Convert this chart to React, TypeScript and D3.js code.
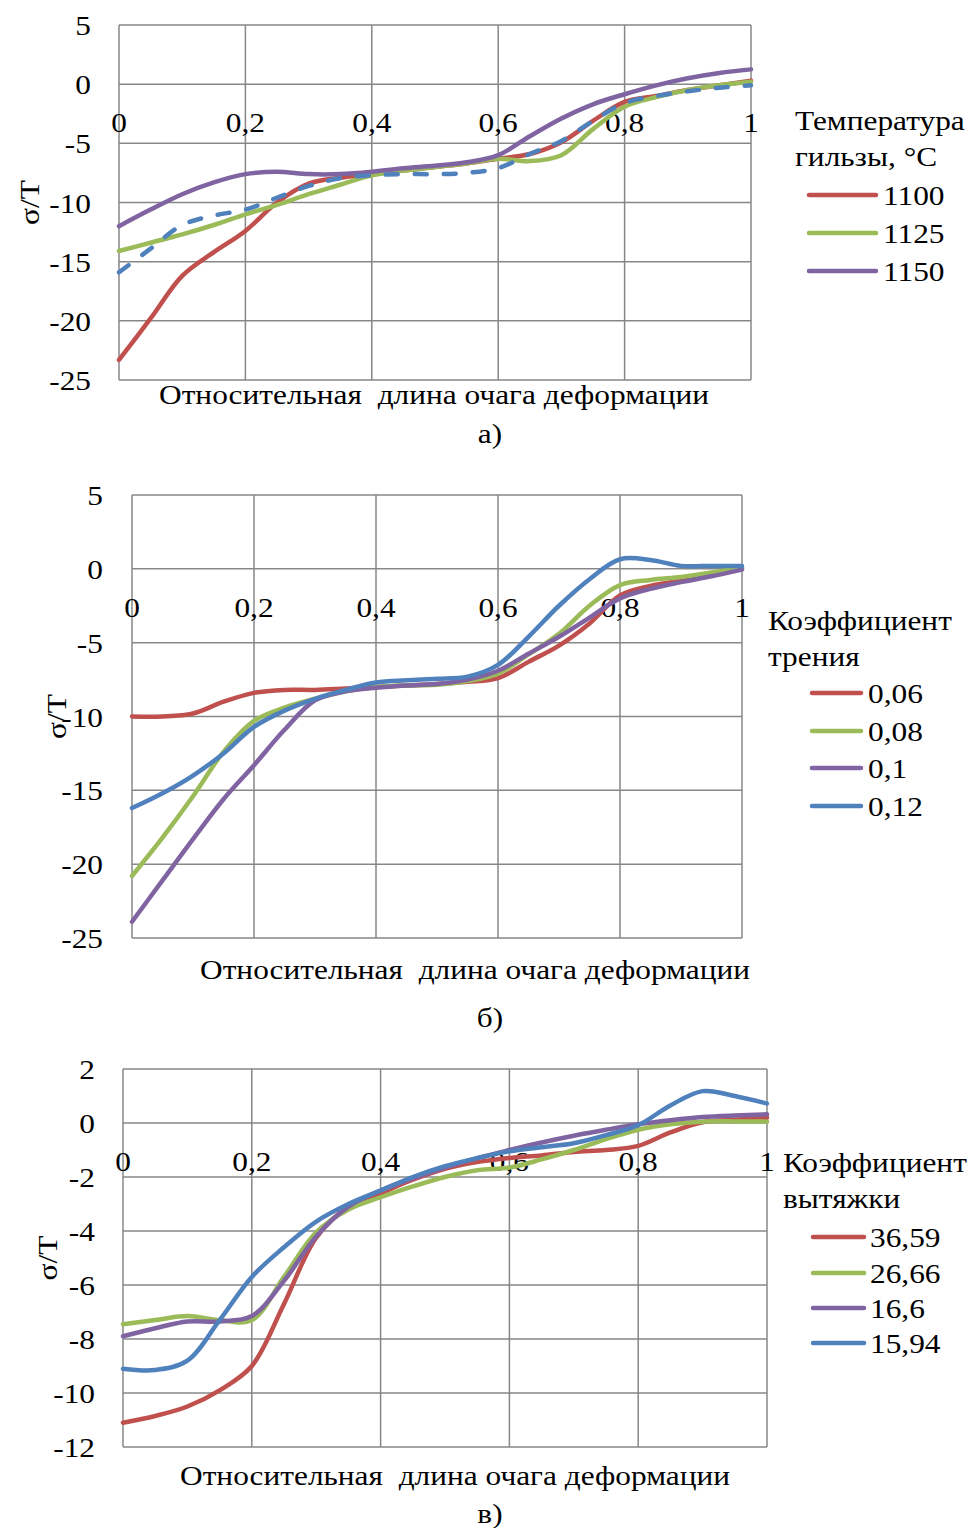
import React from "react";
import * as d3 from "d3";

// Relative position along the deformation zone (shared by all three panels)
const xPos = [0, 0.05, 0.1, 0.15, 0.2, 0.25, 0.3, 0.35, 0.4, 0.45, 0.5, 0.55, 0.6, 0.65, 0.7, 0.75, 0.8, 0.85, 0.9, 0.95, 1];
const xTicks = [0, 0.2, 0.4, 0.6, 0.8, 1];

// а) shell temperature
const yTicksA = [5, 0, -5, -10, -15, -20, -25];
const tempLabels = ["1100", "1125", "1150"];
const t1100 = [-23.3, -19.8, -16.2, -14.2, -12.4, -10.0, -8.4, -7.9, -7.6, -7.3, -7.0, -6.7, -6.3, -5.9, -4.9, -3.1, -1.5, -1.0, -0.5, -0.1, 0.3];
const t1125 = [-14.1, -13.4, -12.7, -11.9, -11.0, -10.2, -9.3, -8.5, -7.7, -7.3, -7.0, -6.7, -6.3, -6.5, -6.0, -3.8, -1.9, -1.1, -0.5, -0.1, 0.2];
const t1150 = [-12.0, -10.6, -9.3, -8.3, -7.6, -7.4, -7.6, -7.6, -7.4, -7.1, -6.9, -6.6, -6.0, -4.4, -2.9, -1.7, -0.85, -0.1, 0.5, 0.95, 1.25];
const tDashed = [-15.9, -13.9, -11.9, -11.1, -10.6, -9.6, -8.6, -7.95, -7.7, -7.6, -7.6, -7.5, -7.1, -5.9, -4.8, -3.1, -1.6, -1.0, -0.6, -0.3, -0.1];

// б) friction coefficient
const yTicksB = [5, 0, -5, -10, -15, -20, -25];
const frictionLabels = ["0,06", "0,08", "0,1", "0,12"];
const f006 = [-10.0, -10.0, -9.8, -9.0, -8.4, -8.2, -8.2, -8.1, -8.0, -7.9, -7.8, -7.65, -7.4, -6.3, -5.2, -3.7, -1.8, -1.15, -0.8, -0.45, 0.05];
const f008 = [-20.8, -18.2, -15.4, -12.4, -10.3, -9.4, -8.8, -8.3, -8.0, -7.9, -7.85, -7.6, -7.1, -5.8, -4.4, -2.5, -1.1, -0.75, -0.55, -0.25, 0.1];
const f010 = [-23.9, -21.1, -18.3, -15.6, -13.3, -10.9, -8.9, -8.3, -8.05, -7.9, -7.8, -7.5, -6.9, -5.75, -4.6, -3.3, -2.0, -1.35, -0.9, -0.5, -0.05];
const f012 = [-16.2, -15.2, -14.0, -12.5, -10.7, -9.6, -8.8, -8.2, -7.7, -7.55, -7.45, -7.3, -6.5, -4.6, -2.5, -0.7, 0.65, 0.6, 0.2, 0.2, 0.2];

// в) elongation coefficient
const yTicksC = [2, 0, -2, -4, -6, -8, -10, -12];
const elongLabels = ["36,59", "26,66", "16,6", "15,94"];
const e3659 = [-11.1, -10.85, -10.5, -9.9, -9.0, -6.7, -4.25, -3.1, -2.6, -2.1, -1.7, -1.45, -1.3, -1.2, -1.07, -1.0, -0.85, -0.35, 0.03, 0.12, 0.2];
const e2666 = [-7.45, -7.3, -7.15, -7.3, -7.3, -5.7, -4.05, -3.2, -2.75, -2.35, -2.0, -1.75, -1.65, -1.35, -1.0, -0.6, -0.25, -0.05, 0.05, 0.06, 0.05];
const e166 = [-7.9, -7.6, -7.35, -7.35, -7.15, -5.85, -4.2, -3.1, -2.5, -2.05, -1.65, -1.3, -1.0, -0.72, -0.47, -0.25, -0.05, 0.1, 0.22, 0.28, 0.32];
const e1594 = [-9.1, -9.15, -8.8, -7.3, -5.7, -4.6, -3.65, -3.0, -2.5, -2.0, -1.6, -1.3, -1.05, -0.9, -0.75, -0.45, -0.08, 0.65, 1.18, 1.0, 0.72];

const RED = "#C0504D";
const GREEN = "#9BBB59";
const PURPLE = "#8064A2";
const BLUE = "#4F81BD";
const GRID = "#878787";
const FONT = "'Liberation Serif', 'Times New Roman', serif";
const FS = 28;
const SX = 1.12; // glyphs are set a little wide

type Series = { values: number[]; color: string; label?: string; dashed?: boolean };

type PanelProps = {
  left: number;
  top: number;
  right: number;
  bottom: number;
  yTicks: number[];
  series: Series[];
  yTitleX: number;
  yLabelRight: number;
  xTitle: { x: number; y: number };
  caption: { text: string; y: number };
  legend: { x: number; titleLines: string[]; titleY: number; lineX0: number; lineX1: number; rows: number[]; textX: number };
};

const fmt = (v: number) => String(v).replace(".", ",");

function T(props: { x: number; y: number; anchor?: "start" | "middle" | "end"; rotate?: number; children: React.ReactNode }) {
  const r = props.rotate ? ` rotate(${props.rotate})` : "";
  return (
    <text
      transform={`translate(${props.x},${props.y})${r} scale(${SX},1)`}
      textAnchor={props.anchor || "start"}
      style={{ whiteSpace: "pre" }}
    >
      {props.children}
    </text>
  );
}

function Panel(p: PanelProps) {
  const x = d3.scaleLinear().domain([0, 1]).range([p.left, p.right]);
  const yMax = d3.max(p.yTicks) as number;
  const yMin = d3.min(p.yTicks) as number;
  const y = d3.scaleLinear().domain([yMin, yMax]).range([p.bottom, p.top]);
  const line = d3
    .line<number>()
    .x((_, i) => x(xPos[i]))
    .y((d) => y(d))
    .curve(d3.curveCatmullRom.alpha(0.5));
  const y0 = y(0);
  const legendSeries = p.series.filter((s) => s.label);

  return (
    <g fontFamily={FONT} fontSize={FS} fill="#000">
      {/* horizontal grid */}
      {p.yTicks.map((t) => (
        <line key={"h" + t} x1={p.left} x2={p.right} y1={y(t)} y2={y(t)} stroke={GRID} strokeWidth={1.5} />
      ))}
      {/* vertical grid */}
      {xTicks.map((t) => (
        <line key={"v" + t} x1={x(t)} x2={x(t)} y1={p.top} y2={p.bottom} stroke={GRID} strokeWidth={1.5} />
      ))}
      {/* y tick labels */}
      {p.yTicks.map((t) => (
        <T key={"yl" + t} x={p.yLabelRight} y={y(t) + 10} anchor="end">
          {fmt(t)}
        </T>
      ))}
      {/* x tick labels sit below the zero line */}
      {xTicks.map((t) => (
        <T key={"xl" + t} x={x(t)} y={y0 + 48} anchor="middle">
          {fmt(t)}
        </T>
      ))}
      {/* curves */}
      {p.series.map((s, i) => (
        <path
          key={"s" + i}
          d={line(s.values) || ""}
          fill="none"
          stroke={s.color}
          strokeWidth={4.5}
          strokeLinecap="round"
          strokeDasharray={s.dashed ? "12 17" : undefined}
        />
      ))}
      {/* axis titles */}
      <T x={p.yTitleX + 9} y={(p.top + p.bottom) / 2} anchor="middle" rotate={-90}>
        σ/T
      </T>
      <T x={p.xTitle.x} y={p.xTitle.y} anchor="middle">
        {"Относительная  длина очага деформации"}
      </T>
      <T x={490} y={p.caption.y} anchor="middle">
        {p.caption.text}
      </T>
      {/* legend */}
      {p.legend.titleLines.map((t, i) => (
        <T key={"lt" + i} x={p.legend.x} y={p.legend.titleY + i * 36}>
          {t}
        </T>
      ))}
      {legendSeries.map((s, i) => (
        <g key={"lg" + i}>
          <line
            x1={p.legend.lineX0}
            x2={p.legend.lineX1}
            y1={p.legend.rows[i]}
            y2={p.legend.rows[i]}
            stroke={s.color}
            strokeWidth={4.5}
            strokeLinecap="round"
          />
          <T x={p.legend.textX} y={p.legend.rows[i] + 10}>
            {s.label}
          </T>
        </g>
      ))}
    </g>
  );
}

export default function App() {
  return (
    <svg
      width={970}
      height={1528}
      style={{ position: "absolute", left: 0, top: 0, background: "#fff" }}
    >
      <rect width={970} height={1528} fill="#fff" />
      <Panel
        left={119}
        top={25}
        right={751}
        bottom={380}
        yTicks={yTicksA}
        yLabelRight={91}
        yTitleX={30}
        series={[
          { values: t1100, color: RED, label: tempLabels[0] },
          { values: t1125, color: GREEN, label: tempLabels[1] },
          { values: t1150, color: PURPLE, label: tempLabels[2] },
          { values: tDashed, color: BLUE, dashed: true },
        ]}
        xTitle={{ x: 434, y: 404 }}
        caption={{ text: "а)", y: 443 }}
        legend={{ x: 795, titleLines: ["Температура", "гильзы, °C"], titleY: 130, lineX0: 809, lineX1: 876, rows: [195, 233, 271], textX: 883 }}
      />
      <Panel
        left={132}
        top={495}
        right={742}
        bottom={938}
        yTicks={yTicksB}
        yLabelRight={103}
        yTitleX={57}
        series={[
          { values: f006, color: RED, label: frictionLabels[0] },
          { values: f008, color: GREEN, label: frictionLabels[1] },
          { values: f010, color: PURPLE, label: frictionLabels[2] },
          { values: f012, color: BLUE, label: frictionLabels[3] },
        ]}
        xTitle={{ x: 475, y: 979 }}
        caption={{ text: "б)", y: 1027 }}
        legend={{ x: 768, titleLines: ["Коэффициент", "трения"], titleY: 630, lineX0: 812, lineX1: 861, rows: [693, 731, 768, 806], textX: 868 }}
      />
      <Panel
        left={123}
        top={1069}
        right={767}
        bottom={1447}
        yTicks={yTicksC}
        yLabelRight={95}
        yTitleX={48}
        series={[
          { values: e3659, color: RED, label: elongLabels[0] },
          { values: e2666, color: GREEN, label: elongLabels[1] },
          { values: e166, color: PURPLE, label: elongLabels[2] },
          { values: e1594, color: BLUE, label: elongLabels[3] },
        ]}
        xTitle={{ x: 455, y: 1485 }}
        caption={{ text: "в)", y: 1523 }}
        legend={{ x: 783, titleLines: ["Коэффициент", "вытяжки"], titleY: 1172, lineX0: 813, lineX1: 864, rows: [1237, 1273, 1308, 1343], textX: 870 }}
      />
    </svg>
  );
}
